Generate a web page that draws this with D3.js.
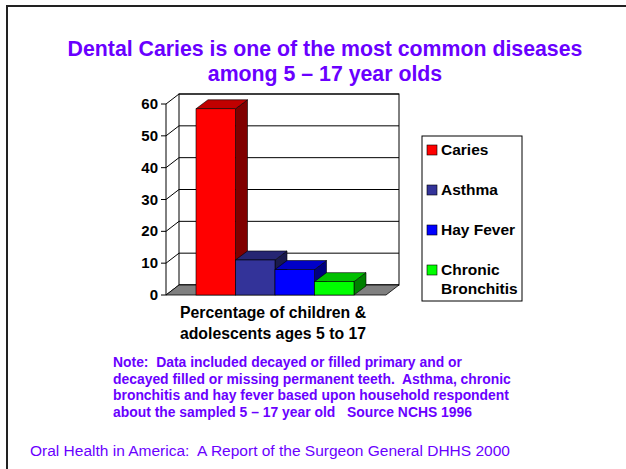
<!DOCTYPE html>
<html>
<head>
<meta charset="utf-8">
<script src="https://cdn.jsdelivr.net/npm/d3@7"></script>
<style>
  body { margin: 0; background: #fff; }
  svg { display: block; font-family: Arial, "Liberation Sans", sans-serif; }
  text { white-space: pre; }
</style>
</head>
<body>
<svg id="chart" width="626" height="469"></svg>
<script>
const categories = ['Caries', 'Asthma', 'Hay Fever', 'Chronic Bronchitis']
const values = [58.5, 11, 8, 4.2]
const ticks = [0, 10, 20, 30, 40, 50, 60]
const legendLines = [['Caries'], ['Asthma'], ['Hay Fever'], ['Chronic', 'Bronchitis']]
const titleLines = ['Dental Caries is one of the most common diseases', 'among 5 \u2013 17 year olds']
const axisLines = ['Percentage of children &', 'adolescents ages 5 to 17']
const noteLines = [
  'Note:  Data included decayed or filled primary and or',
  'decayed filled or missing permanent teeth.  Asthma, chronic',
  'bronchitis and hay fever based upon household respondent',
  'about the sampled 5 \u2013 17 year old   Source NCHS 1996'
]
const footer = 'Oral Health in America:  A Report of the Surgeon General DHHS 2000'

const fronts = ['#ff0000', '#333399', '#0000ff', '#00ff00']
const tops = ['#c00000', '#262673', '#0000c8', '#00c000']
const sides = ['#800000', '#1a1a4d', '#000080', '#008000']
const purple = '#6a00ff'

const svg = d3.select('#chart')

// slide frame
svg.append('path')
  .attr('d', 'M7,469 V6 H626')
  .attr('fill', 'none')
  .attr('stroke', '#222')
  .attr('stroke-width', 2)

// 3d depth offset
const dx = 13, dy = -10

const y = d3.scaleLinear().domain([0, 60]).range([295, 104])
const x = d3.scaleBand().domain(categories).range([196, 354]).padding(0)
const axisX = 166
const floorRight = 386

// back wall
svg.append('rect')
  .attr('x', axisX + dx).attr('y', y(60) + dy)
  .attr('width', floorRight - axisX).attr('height', y(0) - y(60))
  .attr('fill', '#fff').attr('stroke', '#000').attr('stroke-width', 1)

// gridlines on back wall + diagonal ticks on side wall
const gs = svg.selectAll('.tick')
  .data(ticks)
  .enter()
  .append('g')
  .attr('class', 'tick')

gs.append('line')
  .attr('x1', axisX + dx).attr('x2', floorRight + dx)
  .attr('y1', d => y(d) + dy).attr('y2', d => y(d) + dy)
  .attr('stroke', '#000')

gs.append('line')
  .attr('x1', axisX).attr('x2', axisX + dx)
  .attr('y1', d => y(d)).attr('y2', d => y(d) + dy)
  .attr('stroke', '#000')

gs.append('line')
  .attr('x1', axisX - 5).attr('x2', axisX)
  .attr('y1', d => y(d)).attr('y2', d => y(d))
  .attr('stroke', '#000')

gs.append('text')
  .attr('x', axisX - 8)
  .attr('y', d => y(d) + 5)
  .attr('text-anchor', 'end')
  .attr('font-size', 15)
  .attr('font-weight', 'bold')
  .text(d => d)

// front axis line
svg.append('line')
  .attr('x1', axisX).attr('x2', axisX)
  .attr('y1', y(60)).attr('y2', y(0))
  .attr('stroke', '#000')

// floor
svg.append('path')
  .attr('d', `M${axisX},${y(0)} L${floorRight},${y(0)} L${floorRight + dx},${y(0) + dy} L${axisX + dx},${y(0) + dy} Z`)
  .attr('fill', '#808080').attr('stroke', '#000').attr('stroke-width', 0.8)

// bars
const bdx = 12, bdy = -9
const bars = svg.selectAll('.bar')
  .data(values)
  .enter()
  .append('g')
  .attr('class', 'bar')

bars.append('path')
  .attr('d', (d, i) => {
    const x0 = x(categories[i]) + x.bandwidth(), y0 = y(d), y1 = y(0)
    return `M${x0},${y0} L${x0 + bdx},${y0 + bdy} L${x0 + bdx},${y1 + bdy} L${x0},${y1} Z`
  })
  .attr('fill', (d, i) => sides[i]).attr('stroke', '#000').attr('stroke-width', 0.6)

bars.append('path')
  .attr('d', (d, i) => {
    const x0 = x(categories[i]), x1 = x0 + x.bandwidth(), y0 = y(d)
    return `M${x0},${y0} L${x0 + bdx},${y0 + bdy} L${x1 + bdx},${y0 + bdy} L${x1},${y0} Z`
  })
  .attr('fill', (d, i) => tops[i]).attr('stroke', '#000').attr('stroke-width', 0.6)

bars.append('rect')
  .attr('x', (d, i) => x(categories[i]))
  .attr('y', d => y(d))
  .attr('width', x.bandwidth())
  .attr('height', d => y(0) - y(d))
  .attr('fill', (d, i) => fronts[i]).attr('stroke', '#000').attr('stroke-width', 0.6)

// category axis title
svg.append('text')
  .attr('text-anchor', 'middle')
  .attr('font-size', 15.8)
  .attr('font-weight', 'bold')
  .selectAll('tspan')
  .data(axisLines)
  .enter()
  .append('tspan')
  .attr('x', 273)
  .attr('y', (d, i) => 318 + i * 21)
  .text(d => d)

// legend
svg.append('rect')
  .attr('x', 422).attr('y', 136).attr('width', 100).attr('height', 165)
  .attr('fill', '#fff').attr('stroke', '#000').attr('stroke-width', 1)

const lg = svg.selectAll('.legend')
  .data(legendLines)
  .enter()
  .append('g')
  .attr('class', 'legend')
  .attr('transform', (d, i) => `translate(427,${155 + i * 40})`)

lg.append('rect')
  .attr('x', 0).attr('y', -10).attr('width', 10).attr('height', 10)
  .attr('fill', (d, i) => fronts[i]).attr('stroke', '#000').attr('stroke-width', 0.6)

lg.append('text')
  .attr('font-size', 15.5)
  .attr('font-weight', 'bold')
  .selectAll('tspan')
  .data(d => d)
  .enter()
  .append('tspan')
  .attr('x', 14)
  .attr('y', (d, i) => i * 19)
  .text(d => d)

// title
svg.append('text')
  .attr('text-anchor', 'middle')
  .attr('font-size', 21.3)
  .attr('font-weight', 'bold')
  .attr('fill', purple)
  .selectAll('tspan')
  .data(titleLines)
  .enter()
  .append('tspan')
  .attr('x', 325)
  .attr('y', (d, i) => 56 + i * 25)
  .text(d => d)

// note
svg.append('text')
  .attr('font-size', 13.9)
  .attr('font-weight', 'bold')
  .attr('fill', purple)
  .selectAll('tspan')
  .data(noteLines)
  .enter()
  .append('tspan')
  .attr('x', 113)
  .attr('y', (d, i) => 367 + i * 16.5)
  .text(d => d)

svg.append('text')
  .attr('x', 30).attr('y', 456)
  .attr('font-size', 15.5)
  .attr('fill', purple)
  .text(footer)
</script>
</body>
</html>
